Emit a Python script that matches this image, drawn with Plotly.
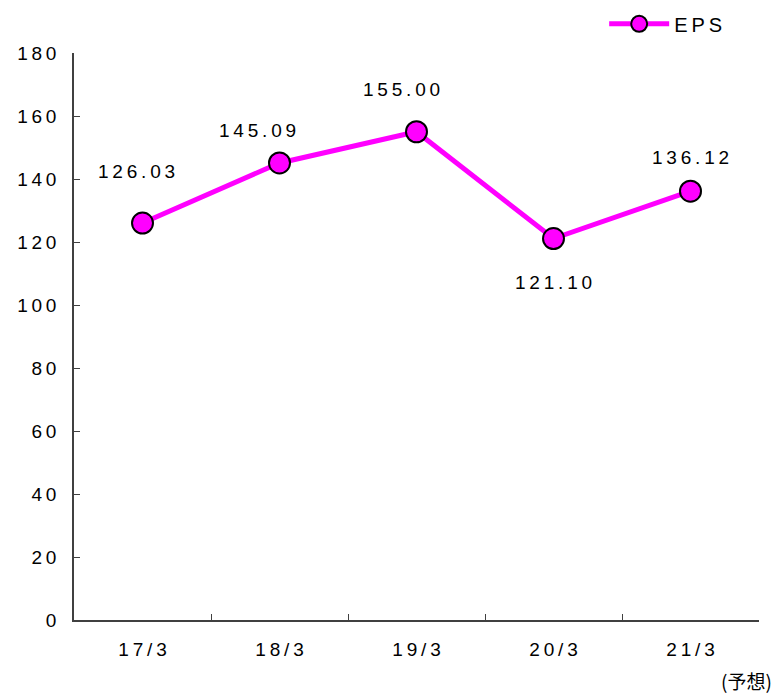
import plotly.graph_objects as go

categories = ["17/3", "18/3", "19/3", "20/3", "21/3"]
eps_values = [126.03, 145.09, 155.00, 121.10, 136.12]
eps_labels = ["126.03", "145.09", "155.00", "121.10", "136.12"]
y_ticks = [0, 20, 40, 60, 80, 100, 120, 140, 160, 180]
series_name = "EPS"
note_text = "(予想)"

TS = "\u2009"  # thin space to emulate the letter spacing


def spaced(s, sep=TS):
    return sep.join(list(s))


FONT = "Liberation Sans, Arial, sans-serif"
MAG = "#FF00FF"

fig = go.Figure()
fig.add_trace(go.Scatter(
    x=categories, y=eps_values, mode="lines+markers", name=spaced(series_name),
    line=dict(color=MAG, width=5),
    marker=dict(size=21, color=MAG, line=dict(color="black", width=2)),
    cliponaxis=False,
))

# label offsets (px) per point
offsets = [(-6, 52), (-22, 32), (-15, 42), (0, -44), (0, 34)]
for c, v, lab, (dx, dy) in zip(categories, eps_values, eps_labels, offsets):
    fig.add_annotation(x=c, y=v, text=spaced(lab), showarrow=False,
                       xshift=dx, yshift=dy,
                       font=dict(family=FONT, size=19, color="black"))

fig.add_annotation(x=1, y=0, xref="paper", yref="paper", xanchor="right", yanchor="top",
                   xshift=14, yshift=-46, text=note_text, showarrow=False, borderpad=0,
                   font=dict(family="Noto Sans CJK JP, sans-serif", size=19, color="black"))

fig.update_layout(
    width=778, height=694,
    margin=dict(l=74, r=19, t=53, b=74, autoexpand=False),
    paper_bgcolor="white", plot_bgcolor="white",
    showlegend=True,
    legend=dict(x=0.955, y=1.017, xanchor="right", yanchor="bottom", xref="paper", yref="paper",
                font=dict(family=FONT, size=20, color="black"),
                bgcolor="rgba(0,0,0,0)", itemwidth=60, borderwidth=0),
    font=dict(family=FONT, color="black"),
)

fig.update_xaxes(
    type="category", categoryorder="array", categoryarray=categories,
    tickvals=categories, ticktext=[spaced(c) for c in categories],
    tickson="boundaries", ticks="inside", ticklen=6, tickcolor="#404040", tickwidth=1,
    showline=True, linecolor="#404040", linewidth=1.5, showgrid=False, zeroline=False,
    tickfont=dict(family=FONT, size=19, color="black"), ticklabelstandoff=11,
    range=[-0.5, 4.5],
)
fig.update_yaxes(
    range=[0, 180], tickvals=y_ticks, ticktext=[spaced(str(t)) for t in y_ticks],
    ticks="inside", ticklen=6, tickcolor="#404040", tickwidth=1,
    showline=True, linecolor="#404040", linewidth=1.5, showgrid=False, zeroline=False,
    tickfont=dict(family=FONT, size=19, color="black"), ticklabelstandoff=12,
)

fig.write_html("out.html", config={"displayModeBar": False},
               post_script="document.body.style.margin='0';")
